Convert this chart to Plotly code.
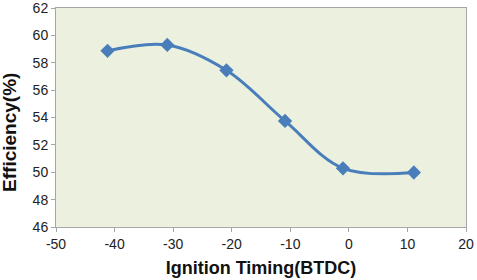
import plotly.graph_objects as go

timing = [-41.2, -31.0, -20.9, -10.9, -1.0, 11.1]
efficiency = [58.87, 59.3, 57.45, 53.75, 50.29, 49.98]

x_ticks = [-50, -40, -30, -20, -10, 0, 10, 20]
y_ticks = [46, 48, 50, 52, 54, 56, 58, 60, 62]
x_labels = [str(v) for v in x_ticks]
y_labels = [str(v) for v in y_ticks]

fig = go.Figure()
fig.add_trace(go.Scatter(
    x=timing, y=efficiency, mode="lines+markers",
    line=dict(color="#4A7EBB", width=3, shape="spline", smoothing=1),
    marker=dict(symbol="diamond", size=11, color="#4A7EBB"),
    showlegend=False,
))

axis_font = dict(family="Liberation Sans, Arial", size=14, color="#222")
title_font = dict(family="Liberation Sans, Arial", size=18, color="#111", weight="bold")
fig.update_layout(
    width=477, height=280,
    margin=dict(l=56, r=11, t=8, b=53),
    paper_bgcolor="white",
    plot_bgcolor="#EBF1DE",
    xaxis=dict(
        range=[-50, 20], tickvals=x_ticks, ticktext=x_labels, showgrid=False, zeroline=False,
        showline=True, linecolor="#A6A6A6", linewidth=1, mirror=True,
        ticks="outside", ticklen=4, tickcolor="#A6A6A6", tickfont=axis_font,
        ticklabeloverflow="allow", automargin=False,
        title=dict(text="Ignition Timing(BTDC)", standoff=10, font=title_font),
    ),
    yaxis=dict(
        range=[46, 62], tickvals=y_ticks, ticktext=y_labels, showgrid=False, zeroline=False,
        showline=True, linecolor="#A6A6A6", linewidth=1, mirror=True,
        ticks="outside", ticklen=4, tickcolor="#A6A6A6", tickfont=axis_font,
        ticklabeloverflow="allow", automargin=False,
    ),
    annotations=[dict(
        text="Efficiency(%)", textangle=-90, xref="paper", yref="paper",
        x=-0.112, y=0.43, xanchor="center", yanchor="middle", showarrow=False,
        font=dict(family="Liberation Sans, Arial", size=19, color="#111", weight="bold"),
    )],
)

fig.write_html("out.html")
